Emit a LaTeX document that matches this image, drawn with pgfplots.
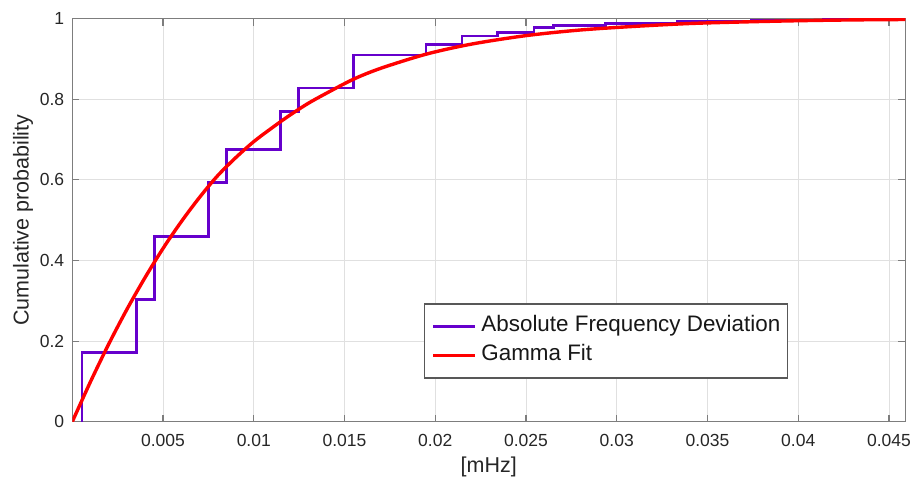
\documentclass[border=0pt]{standalone}
\usepackage{pgfplots}
\pgfplotsset{compat=1.18}
\usepackage{fontspec}
\setmainfont{Liberation Sans}
\definecolor{cdfpurple}{RGB}{102,0,204}
\definecolor{axgray}{RGB}{125,125,125}
\definecolor{txtgray}{RGB}{38,38,38}
\definecolor{gridgray}{RGB}{224,224,224}
\begin{document}
\begin{tikzpicture}
\useasboundingbox (-72.3pt,-60.3pt) rectangle (840.7pt,421.7pt);
\begin{axis}[
  at={(0,0)}, anchor=south west,
  width=833pt, height=403pt, scale only axis,
  xmin=0, xmax=0.0459, ymin=0, ymax=1,
  scaled x ticks=false, scaled y ticks=false,
  xtick={0.005,0.01,0.015,0.02,0.025,0.03,0.035,0.04,0.045},
  xticklabels={0.005,0.01,0.015,0.02,0.025,0.03,0.035,0.04,0.045},
  ytick={0,0.2,0.4,0.6,0.8,1},
  yticklabels={0,0.2,0.4,0.6,0.8,1},
  grid=major,
  major grid style={gridgray, line width=0.9pt},
  axis line style={axgray, line width=1.2pt},
  tick style={axgray, line width=1.2pt},
  tick align=inside, major tick length=7pt,
  ticklabel style={font=\fontsize{17.5}{20}\selectfont, text=txtgray},
  xticklabel style={inner sep=0pt, yshift=-12pt},
  yticklabel style={inner sep=0pt, xshift=-8pt},
  xlabel={[mHz]}, ylabel={Cumulative probability},
  label style={font=\fontsize{21.5}{24}\selectfont, text=txtgray},
  xlabel style={at={(axis description cs:0.5,-0.1124)}, anchor=center},
  ylabel style={at={(axis description cs:-0.0592,0.5)}, anchor=center},
  legend cell align=left,
  legend image code/.code={\draw[#1] (0pt,0pt) -- (42pt,0pt);},
  legend style={at={(axis description cs:0.4219,0.2938)}, anchor=north west,
    draw=axgray!70!black, line width=1.2pt, fill=white,
    font=\fontsize{22.4}{26}\selectfont, text=txtgray!60!black,
    inner xsep=7pt, inner ysep=8pt, column sep=4.7pt,
    nodes={inner xsep=0pt, inner ysep=4pt, text height=16pt, text depth=5pt}},
]
\addplot[cdfpurple, line width=2.8pt, const plot mark left] coordinates {
 (0.00053,0) (0.00053,0.171) (0.00352,0.304) (0.00452,0.459) (0.00749,0.593)
 (0.0085,0.676) (0.01148,0.770) (0.01247,0.828) (0.0155,0.910) (0.01949,0.935)
 (0.02147,0.957) (0.02342,0.966) (0.02544,0.978) (0.0265,0.983) (0.0294,0.988)
 (0.03335,0.994) (0.0374,0.997) (0.0414,0.999) (0.0453,1.0)
};
\addlegendentry{Absolute Frequency Deviation}
\addplot[red, line width=3.4pt, smooth] coordinates {
 (0,0) (0.001,0.099) (0.002,0.192) (0.003,0.278) (0.004,0.357) (0.005,0.430)
 (0.006,0.496) (0.007,0.556) (0.008,0.610) (0.009,0.655) (0.010,0.695)
 (0.011,0.729) (0.012,0.761) (0.013,0.790) (0.014,0.815) (0.0155,0.850)
 (0.017,0.877) (0.0195,0.912) (0.022,0.937) (0.025,0.958) (0.028,0.972)
 (0.031,0.981) (0.034,0.988) (0.037,0.992) (0.040,0.995) (0.043,0.997)
 (0.0459,0.998)
};
\addlegendentry{Gamma Fit}
\end{axis}
\end{tikzpicture}
\end{document}
